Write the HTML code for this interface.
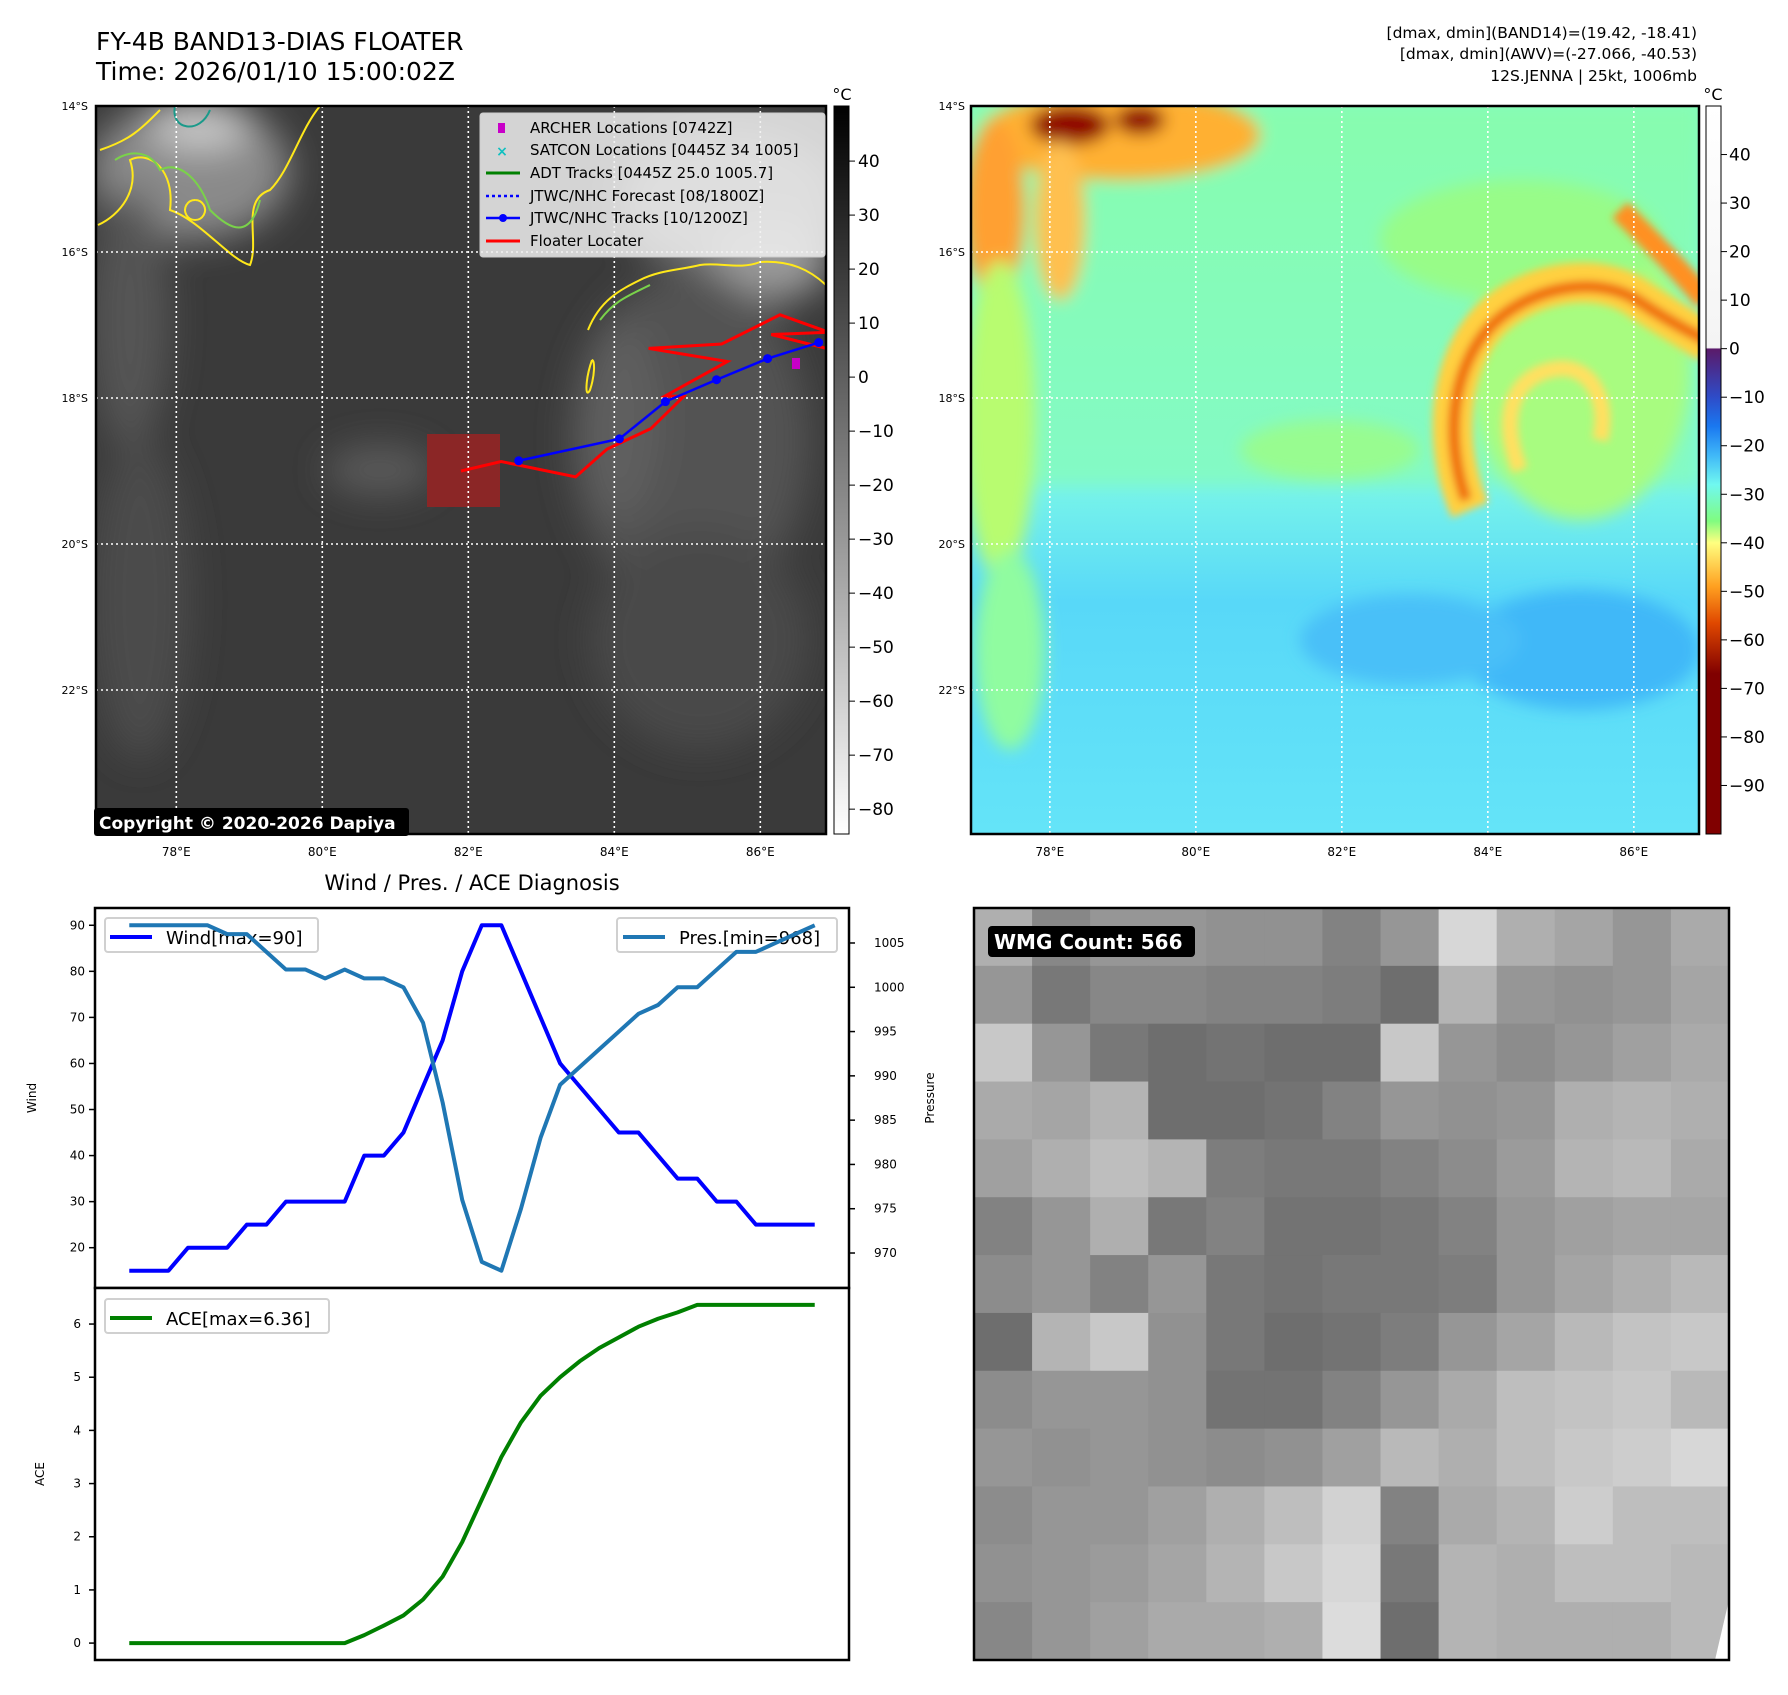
<!DOCTYPE html>
<html><head><meta charset="utf-8"><style>
body{margin:0;background:#fff;}
#root{position:relative;width:1788px;height:1695px;overflow:hidden;font-family:"Liberation Sans","DejaVu Sans",sans-serif;}
svg text{font-family:"DejaVu Sans","Liberation Sans",sans-serif;}
</style></head><body>
<div id="root">
<svg id="fig" width="1788" height="1695" viewBox="0 0 1788 1695" xmlns="http://www.w3.org/2000/svg">
<defs>
<filter id="blur8" x="-20%" y="-20%" width="140%" height="140%"><feGaussianBlur stdDeviation="8"/></filter>
<filter id="blur4" x="-20%" y="-20%" width="140%" height="140%"><feGaussianBlur stdDeviation="4"/></filter>
<filter id="blur14" x="-30%" y="-30%" width="160%" height="160%"><feGaussianBlur stdDeviation="18"/></filter>
<clipPath id="clipL"><rect x="96" y="106" width="730" height="728"/></clipPath>
<clipPath id="clipR"><rect x="971" y="106" width="728" height="728"/></clipPath>
<linearGradient id="gcbL" x1="0" y1="0" x2="0" y2="1"><stop offset="0" stop-color="#000"/><stop offset="1" stop-color="#fff"/></linearGradient>
<linearGradient id="gcbR" x1="0" y1="0" x2="0" y2="1">
<stop offset="0" stop-color="#ffffff"/><stop offset="0.332" stop-color="#f4f4f4"/>
<stop offset="0.334" stop-color="#5a1a6a"/><stop offset="0.40" stop-color="#2e4cc8"/><stop offset="0.44" stop-color="#1a78f0"/>
<stop offset="0.48" stop-color="#40b8f8"/><stop offset="0.52" stop-color="#70f8f0"/><stop offset="0.57" stop-color="#80fc80"/>
<stop offset="0.60" stop-color="#ffff80"/><stop offset="0.66" stop-color="#ffa020"/><stop offset="0.71" stop-color="#e04800"/>
<stop offset="0.78" stop-color="#800000"/><stop offset="1" stop-color="#800000"/></linearGradient>
<linearGradient id="gR" x1="0" y1="0" x2="0" y2="1"><stop offset="0" stop-color="#84fcc0"/><stop offset="0.5" stop-color="#7cf8e8"/><stop offset="0.68" stop-color="#58d8f8"/><stop offset="1" stop-color="#64e4f8"/></linearGradient>
</defs>

<text x="96" y="50" font-size="25" fill="#000">FY-4B BAND13-DIAS FLOATER</text>
<text x="96" y="80" font-size="25" fill="#000">Time: 2026/01/10 15:00:02Z</text>
<text x="1697" y="38" font-size="15.5" text-anchor="end">[dmax, dmin](BAND14)=(19.42, -18.41)</text>
<text x="1697" y="59" font-size="15.5" text-anchor="end">[dmax, dmin](AWV)=(-27.066, -40.53)</text>
<text x="1697" y="81" font-size="15.5" text-anchor="end">12S.JENNA | 25kt, 1006mb</text>

<g clip-path="url(#clipL)">
<rect x="96" y="106" width="730" height="728" fill="#3a3a3a"/>
<g filter="url(#blur14)">
<ellipse cx="190" cy="170" rx="100" ry="70" fill="#8a8a8a"/>
<ellipse cx="200" cy="125" rx="50" ry="25" fill="#c8c8c8"/>
<ellipse cx="130" cy="320" rx="40" ry="130" fill="#555"/>
<ellipse cx="140" cy="600" rx="50" ry="160" fill="#4c4c4c"/>
<ellipse cx="730" cy="200" rx="110" ry="70" fill="#7a7a7a"/>
<ellipse cx="770" cy="260" rx="60" ry="40" fill="#9a9a9a"/>
<ellipse cx="690" cy="440" rx="120" ry="170" fill="#525252"/>
<ellipse cx="620" cy="420" rx="40" ry="100" fill="#5e5e5e"/>
<ellipse cx="380" cy="470" rx="55" ry="25" fill="#5a5a5a"/>
<ellipse cx="700" cy="640" rx="110" ry="110" fill="#484848"/>
</g>
<rect x="427" y="434" width="73" height="73" fill="#8b2626"/>
<g fill="none" stroke-width="2">
<path d="M100,150 C130,140 140,130 160,110 M98,225 C120,215 140,190 130,160 C150,150 175,170 170,210 C200,220 230,260 250,265 C260,240 240,200 270,190 C290,170 300,130 320,106" stroke="#ffe81a"/>
<path d="M115,160 C130,150 150,150 160,170 C180,160 200,180 210,210 C230,230 250,240 260,200" stroke="#7ad24a"/>
<path d="M175,106 C170,130 200,135 210,110" stroke="#1a9a8a"/>
<path d="M195,200 a10,10 0 1,0 0.1,0" stroke="#ffe81a"/>
<path d="M588,330 C600,300 620,290 640,280 C660,270 680,270 700,265 C720,262 740,270 760,262 C790,260 810,270 826,285" stroke="#ffe81a"/>
<path d="M600,320 C615,300 630,295 650,285" stroke="#7ad24a"/>
<path d="M592,360 C585,380 585,400 590,390 C595,375 595,360 592,360" stroke="#ffe81a"/>
</g>
<g stroke="#fff" stroke-width="1.6" stroke-dasharray="2,3" id="gridL"></g>
<path id="floaterPath" fill="none" stroke="#ff0000" stroke-width="3"/>
<g id="jtwcL"></g>
<rect x="792" y="358" width="8" height="11" fill="#c800c8"/>
</g>
<rect x="96" y="106" width="730" height="728" fill="none" stroke="#000" stroke-width="2.5"/>
<g>
<rect x="480" y="113" width="345" height="144" rx="3" fill="#f0f0f0" fill-opacity="0.85" stroke="#ccc"/>
<rect x="498" y="123" width="7" height="10" fill="#c800c8"/>
<text x="502" y="156" font-size="14" fill="#10c0c0" text-anchor="middle" font-weight="bold">×</text>
<line x1="486" y1="173" x2="520" y2="173" stroke="#008000" stroke-width="3"/>
<line x1="486" y1="196" x2="520" y2="196" stroke="#0000ff" stroke-width="2.5" stroke-dasharray="3,3"/>
<line x1="486" y1="218" x2="520" y2="218" stroke="#0000ff" stroke-width="2.5"/><circle cx="503" cy="218" r="4" fill="#0000ff"/>
<line x1="486" y1="241" x2="520" y2="241" stroke="#ff0000" stroke-width="3"/>
<g font-size="15" fill="#000">
<text x="530" y="133">ARCHER Locations [0742Z]</text>
<text x="530" y="155">SATCON Locations [0445Z 34 1005]</text>
<text x="530" y="178">ADT Tracks [0445Z 25.0 1005.7]</text>
<text x="530" y="201">JTWC/NHC Forecast [08/1800Z]</text>
<text x="530" y="223">JTWC/NHC Tracks [10/1200Z]</text>
<text x="530" y="246">Floater Locater</text>
</g></g>
<g>
<rect x="94" y="808" width="315" height="28" rx="3" fill="#000"/>
<text x="99" y="829" font-size="17" font-weight="bold" fill="#fff">Copyright © 2020-2026 Dapiya</text>
</g>
<rect x="834" y="106" width="15" height="728" fill="url(#gcbL)" stroke="#000" stroke-width="1"/>
<text x="842" y="100" font-size="16" text-anchor="middle">°C</text>
<g id="cbLticks" font-size="17"></g>

<g clip-path="url(#clipR)">
<rect x="971" y="106" width="728" height="728" fill="url(#gR)"/>
<g filter="url(#blur8)">
<rect x="971" y="106" width="728" height="380" fill="#8cfc9a" opacity="0.45"/>
<ellipse cx="1120" cy="135" rx="140" ry="45" fill="#ffb030"/>
<ellipse cx="1070" cy="125" rx="40" ry="20" fill="#900000"/>
<ellipse cx="1140" cy="120" rx="25" ry="15" fill="#900000"/>
<ellipse cx="995" cy="210" rx="30" ry="90" fill="#ffa030"/>
<ellipse cx="1060" cy="220" rx="25" ry="80" fill="#ffc050"/>
<ellipse cx="1000" cy="420" rx="35" ry="160" fill="#b8fc70"/>
<ellipse cx="1010" cy="650" rx="35" ry="100" fill="#90fca0"/>
<ellipse cx="1330" cy="450" rx="90" ry="30" fill="#98fc90"/>
<ellipse cx="1580" cy="370" rx="110" ry="150" fill="#a8fc80"/>
<ellipse cx="1520" cy="240" rx="140" ry="60" fill="#98fc88"/>
<ellipse cx="1580" cy="650" rx="120" ry="60" fill="#40b8f8"/>
<ellipse cx="1410" cy="640" rx="110" ry="45" fill="#48c0f8"/>
</g>
<g fill="none" filter="url(#blur4)">
<path d="M1470,510 C1440,440 1450,360 1490,320 C1530,280 1600,270 1640,300 C1670,320 1690,330 1710,345" stroke="#ffd040" stroke-width="40"/>
<path d="M1466,500 C1442,430 1455,360 1495,322 C1535,285 1600,275 1640,302 C1670,322 1690,332 1710,342" stroke="#f07010" stroke-width="12"/>
<path d="M1520,470 C1500,420 1510,380 1550,370 C1590,360 1610,400 1600,440" stroke="#ffe060" stroke-width="16"/>
<path d="M1620,210 C1650,240 1680,270 1705,300" stroke="#ff9020" stroke-width="22"/>
</g>
<g stroke="#fff" stroke-width="1.6" stroke-dasharray="2,3" id="gridR"></g>
</g>
<rect x="971" y="106" width="728" height="728" fill="none" stroke="#000" stroke-width="2.5"/>
<rect x="1706" y="106" width="15" height="728" fill="url(#gcbR)" stroke="#000" stroke-width="1"/>
<text x="1713" y="100" font-size="16" text-anchor="middle">°C</text>
<g id="cbRticks" font-size="17"></g>
<g id="mapTicks" font-size="12"></g>

<text x="472" y="890" font-size="21" text-anchor="middle">Wind / Pres. / ACE Diagnosis</text>
<g id="windPanel"></g>
<g id="acePanel"></g>
<g id="wmg"></g>
</svg>
</div>
<script>
const windValues=[15,15,15,20,20,20,25,25,30,30,30,30,40,40,45,55,65,80,90,90,80,70,60,55,50,45,45,40,35,35,30,30,25,25,25,25];
const presValues=[1007,1007,1007,1007,1007,1006,1006,1004,1002,1002,1001,1002,1001,1001,1000,996,987,976,969,968,975,983,989,991,993,995,997,998,1000,1000,1002,1004,1004,1005,1006,1007];
const aceValues=[0,0,0,0,0,0,0,0,0,0,0,0,0.15,0.33,0.52,0.82,1.25,1.9,2.7,3.5,4.15,4.65,5.0,5.3,5.55,5.75,5.95,6.1,6.22,6.36,6.36,6.36,6.36,6.36,6.36,6.36];
const windTicks=[20,30,40,50,60,70,80,90];
const presTicks=[970,975,980,985,990,995,1000,1005];
const aceTicks=[0,1,2,3,4,5,6];
const cbLTicks=[40,30,20,10,0,-10,-20,-30,-40,-50,-60,-70,-80];
const cbRTicks=[40,30,20,10,0,-10,-20,-30,-40,-50,-60,-70,-80,-90];
const lonTicks=[78,80,82,84,86];
const latTicks=[-14,-16,-18,-20,-22];
const jtwcLon=[82.69,84.07,84.7,85.4,86.1,86.8];
const jtwcLat=[-18.86,-18.56,-18.05,-17.75,-17.46,-17.24];
const floaterLon=[81.9,82.45,83.47,83.9,84.5,84.95,84.7,85.55,84.47,85.47,86.27,86.94,86.15,86.94];
const floaterLat=[-19.0,-18.87,-19.08,-18.7,-18.42,-17.98,-17.97,-17.5,-17.32,-17.26,-16.86,-17.1,-17.13,-17.33];
const wmgGrays=[
[175,135,150,150,145,145,130,150,215,175,165,150,170],
[150,120,135,135,130,130,125,110,180,150,145,150,165],
[200,150,120,110,115,110,110,200,150,140,150,160,170],
[170,165,180,110,110,115,130,150,145,150,175,180,175],
[160,175,190,180,125,120,120,130,140,155,180,185,170],
[130,150,175,120,130,115,115,120,130,150,160,165,165],
[140,150,130,150,120,115,120,120,125,150,165,175,185],
[110,180,200,145,120,110,115,125,150,165,185,195,200],
[140,150,150,145,115,115,130,150,170,190,195,200,185],
[150,145,150,145,140,145,160,185,175,190,200,205,215],
[140,150,150,160,175,190,210,130,170,180,205,190,190],
[145,150,155,165,180,200,215,120,180,175,190,190,185],
[135,150,160,170,170,175,220,110,180,175,175,175,185]];
const NS='http://www.w3.org/2000/svg';
function mk(tag,attrs,parent){const e=document.createElementNS(NS,tag);for(const k in attrs)e.setAttribute(k,attrs[k]);parent.appendChild(e);return e;}
function txt(parent,x,y,s,size,anchor,extra){const t=mk('text',Object.assign({x:x,y:y,'font-size':size,'text-anchor':anchor||'start'},extra||{}),parent);t.textContent=s;return t;}
const LX=lon=>96+(lon-76.9)*73, LY=lat=>106+(-14-lat)*73;
const RX=lon=>971+(lon-76.92)*73, RY=lat=>106+(-14-lat)*73;
const gridL=document.getElementById('gridL'),gridR=document.getElementById('gridR'),mt=document.getElementById('mapTicks');
lonTicks.forEach(l=>{mk('line',{x1:LX(l),x2:LX(l),y1:106,y2:834},gridL);mk('line',{x1:RX(l),x2:RX(l),y1:106,y2:834},gridR);
 const a=txt(mt,LX(l),856,l+'°E',12,'middle');
 const b=txt(mt,RX(l),856,l+'°E',12,'middle');});
latTicks.forEach(l=>{mk('line',{y1:LY(l),y2:LY(l),x1:96,x2:826},gridL);mk('line',{y1:RY(l),y2:RY(l),x1:971,x2:1699},gridR);
 const a=txt(mt,88,LY(l)+4,(-l)+'°S',11,'end');
 const b=txt(mt,965,RY(l)+4,(-l)+'°S',11,'end');});
document.getElementById('floaterPath').setAttribute('d',floaterLon.map((l,i)=>(i?'L':'M')+LX(l)+','+LY(floaterLat[i])).join(''));
const jg=document.getElementById('jtwcL');
mk('path',{d:jtwcLon.map((l,i)=>(i?'L':'M')+LX(l)+','+LY(jtwcLat[i])).join(''),fill:'none',stroke:'#0000ff','stroke-width':2.5},jg);
jtwcLon.forEach((l,i)=>{const c=mk('circle',{cx:LX(l),cy:LY(jtwcLat[i]),r:4.5,fill:'#0000ff'},jg);});
const cL=document.getElementById('cbLticks');const cbLY=v=>106+(50.2-v)*(728/134.8);
cbLTicks.forEach(v=>{mk('line',{x1:849,x2:855,y1:cbLY(v),y2:cbLY(v),stroke:'#000'},cL);const t=txt(cL,858,cbLY(v)+6,(v<0?'\u2212'+(-v):v),17,'start');});
const cR=document.getElementById('cbRticks');const cbRY=v=>106+(50-v)*(728/150);
cbRTicks.forEach(v=>{mk('line',{x1:1721,x2:1727,y1:cbRY(v),y2:cbRY(v),stroke:'#000'},cR);const t=txt(cR,1729,cbRY(v)+6,(v<0?'\u2212'+(-v):v),17,'start');});
const W={x0:95,x1:849,y0:908,y1:1288};
const xs=i=>W.x0+(i+1.75)*(W.x1-W.x0)/38.5;
const wy=v=>W.y1-(v-11.25)*(W.y1-W.y0)/82.5;
const py=v=>W.y1-(v-966.05)*(W.y1-W.y0)/42.9;
const wp=document.getElementById('windPanel');
mk('rect',{x:W.x0,y:W.y0,width:W.x1-W.x0,height:W.y1-W.y0,fill:'#fff',stroke:'#000','stroke-width':2.5},wp);
windTicks.forEach(v=>{mk('line',{x1:W.x0-6,x2:W.x0,y1:wy(v),y2:wy(v),stroke:'#000','stroke-width':1.5},wp);const t=txt(wp,W.x0-10,wy(v)+4,v,12,'end');});
presTicks.forEach(v=>{mk('line',{x1:W.x1,x2:W.x1+6,y1:py(v),y2:py(v),stroke:'#000','stroke-width':1.5},wp);const t=txt(wp,W.x1+25,py(v)+4,v,12,'start');});
const lg1=mk('g',{},wp);
mk('rect',{x:105,y:918,width:213,height:34,rx:3,fill:'#fff','fill-opacity':0.8,stroke:'#d0d0d0','stroke-width':2},lg1);
mk('line',{x1:110,x2:152,y1:937,y2:937,stroke:'#0000ff','stroke-width':4},lg1);txt(lg1,166,944,'Wind[max=90]',18,'start');
const lg2=mk('g',{},wp);
mk('rect',{x:617,y:918,width:220,height:34,rx:3,fill:'#fff','fill-opacity':0.8,stroke:'#d0d0d0','stroke-width':2},lg2);
mk('line',{x1:623,x2:665,y1:937,y2:937,stroke:'#1f77b4','stroke-width':4},lg2);txt(lg2,679,944,'Pres.[min=968]',18,'start');
const wl=mk('path',{d:windValues.map((v,i)=>(i?'L':'M')+xs(i)+','+wy(v)).join(''),fill:'none',stroke:'#0000ff','stroke-width':4,'stroke-linejoin':'round'},wp);

const pl=mk('path',{d:presValues.map((v,i)=>(i?'L':'M')+xs(i)+','+py(v)).join(''),fill:'none',stroke:'#1f77b4','stroke-width':4,'stroke-linejoin':'round'},wp);

const yl=txt(wp,0,0,'Wind',12,'middle',{transform:'translate(36,1098) rotate(-90)'});
const pl2=txt(wp,0,0,'Pressure',12,'middle',{transform:'translate(934,1098) rotate(-90)'});
const A={y0:1288,y1:1660};
const ay=v=>A.y1-(v+0.318)*(A.y1-A.y0)/6.996;
const ap=document.getElementById('acePanel');
mk('rect',{x:W.x0,y:A.y0,width:W.x1-W.x0,height:A.y1-A.y0,fill:'#fff',stroke:'#000','stroke-width':2.5},ap);
aceTicks.forEach(v=>{mk('line',{x1:W.x0-6,x2:W.x0,y1:ay(v),y2:ay(v),stroke:'#000','stroke-width':1.5},ap);const t=txt(ap,W.x0-14,ay(v)+4,v,12,'end');});
const al=mk('path',{d:aceValues.map((v,i)=>(i?'L':'M')+xs(i)+','+ay(v)).join(''),fill:'none',stroke:'#008000','stroke-width':4,'stroke-linejoin':'round'},ap);

const at=txt(ap,0,0,'ACE',12,'middle',{transform:'translate(44,1474) rotate(-90)'});
const lg3=mk('g',{},ap);
mk('rect',{x:105,y:1299,width:224,height:34,rx:3,fill:'#fff','fill-opacity':0.8,stroke:'#d0d0d0','stroke-width':2},lg3);
mk('line',{x1:110,x2:152,y1:1318,y2:1318,stroke:'#008000','stroke-width':4},lg3);txt(lg3,166,1325,'ACE[max=6.36]',18,'start');
const wg=document.getElementById('wmg');
const G={x0:974,x1:1729,y0:908,y1:1660};
mk('rect',{x:G.x0,y:G.y0,width:G.x1-G.x0,height:G.y1-G.y0,fill:'#fff'},wg);
const cw=(G.x1-G.x0)/13,ch=(G.y1-G.y0)/13;
wmgGrays.forEach((row,r)=>row.forEach((g,c)=>{const e=mk('rect',{x:G.x0+c*cw,y:G.y0+r*ch,width:cw+0.5,height:ch+0.5,fill:'rgb('+g+','+g+','+g+')'},wg);}));
mk('path',{d:'M1715,1660 L1729,1600 L1729,1660 Z',fill:'#fff'},wg);
mk('rect',{x:G.x0,y:G.y0,width:G.x1-G.x0,height:G.y1-G.y0,fill:'none',stroke:'#000','stroke-width':2.5},wg);
const wl2=mk('g',{},wg);
mk('rect',{x:988,y:926,width:207,height:31,rx:4,fill:'#000'},wl2);
txt(wl2,994,949,'WMG Count: 566',20,'start',{'font-weight':'bold',fill:'#fff'});
</script>
</body></html>
